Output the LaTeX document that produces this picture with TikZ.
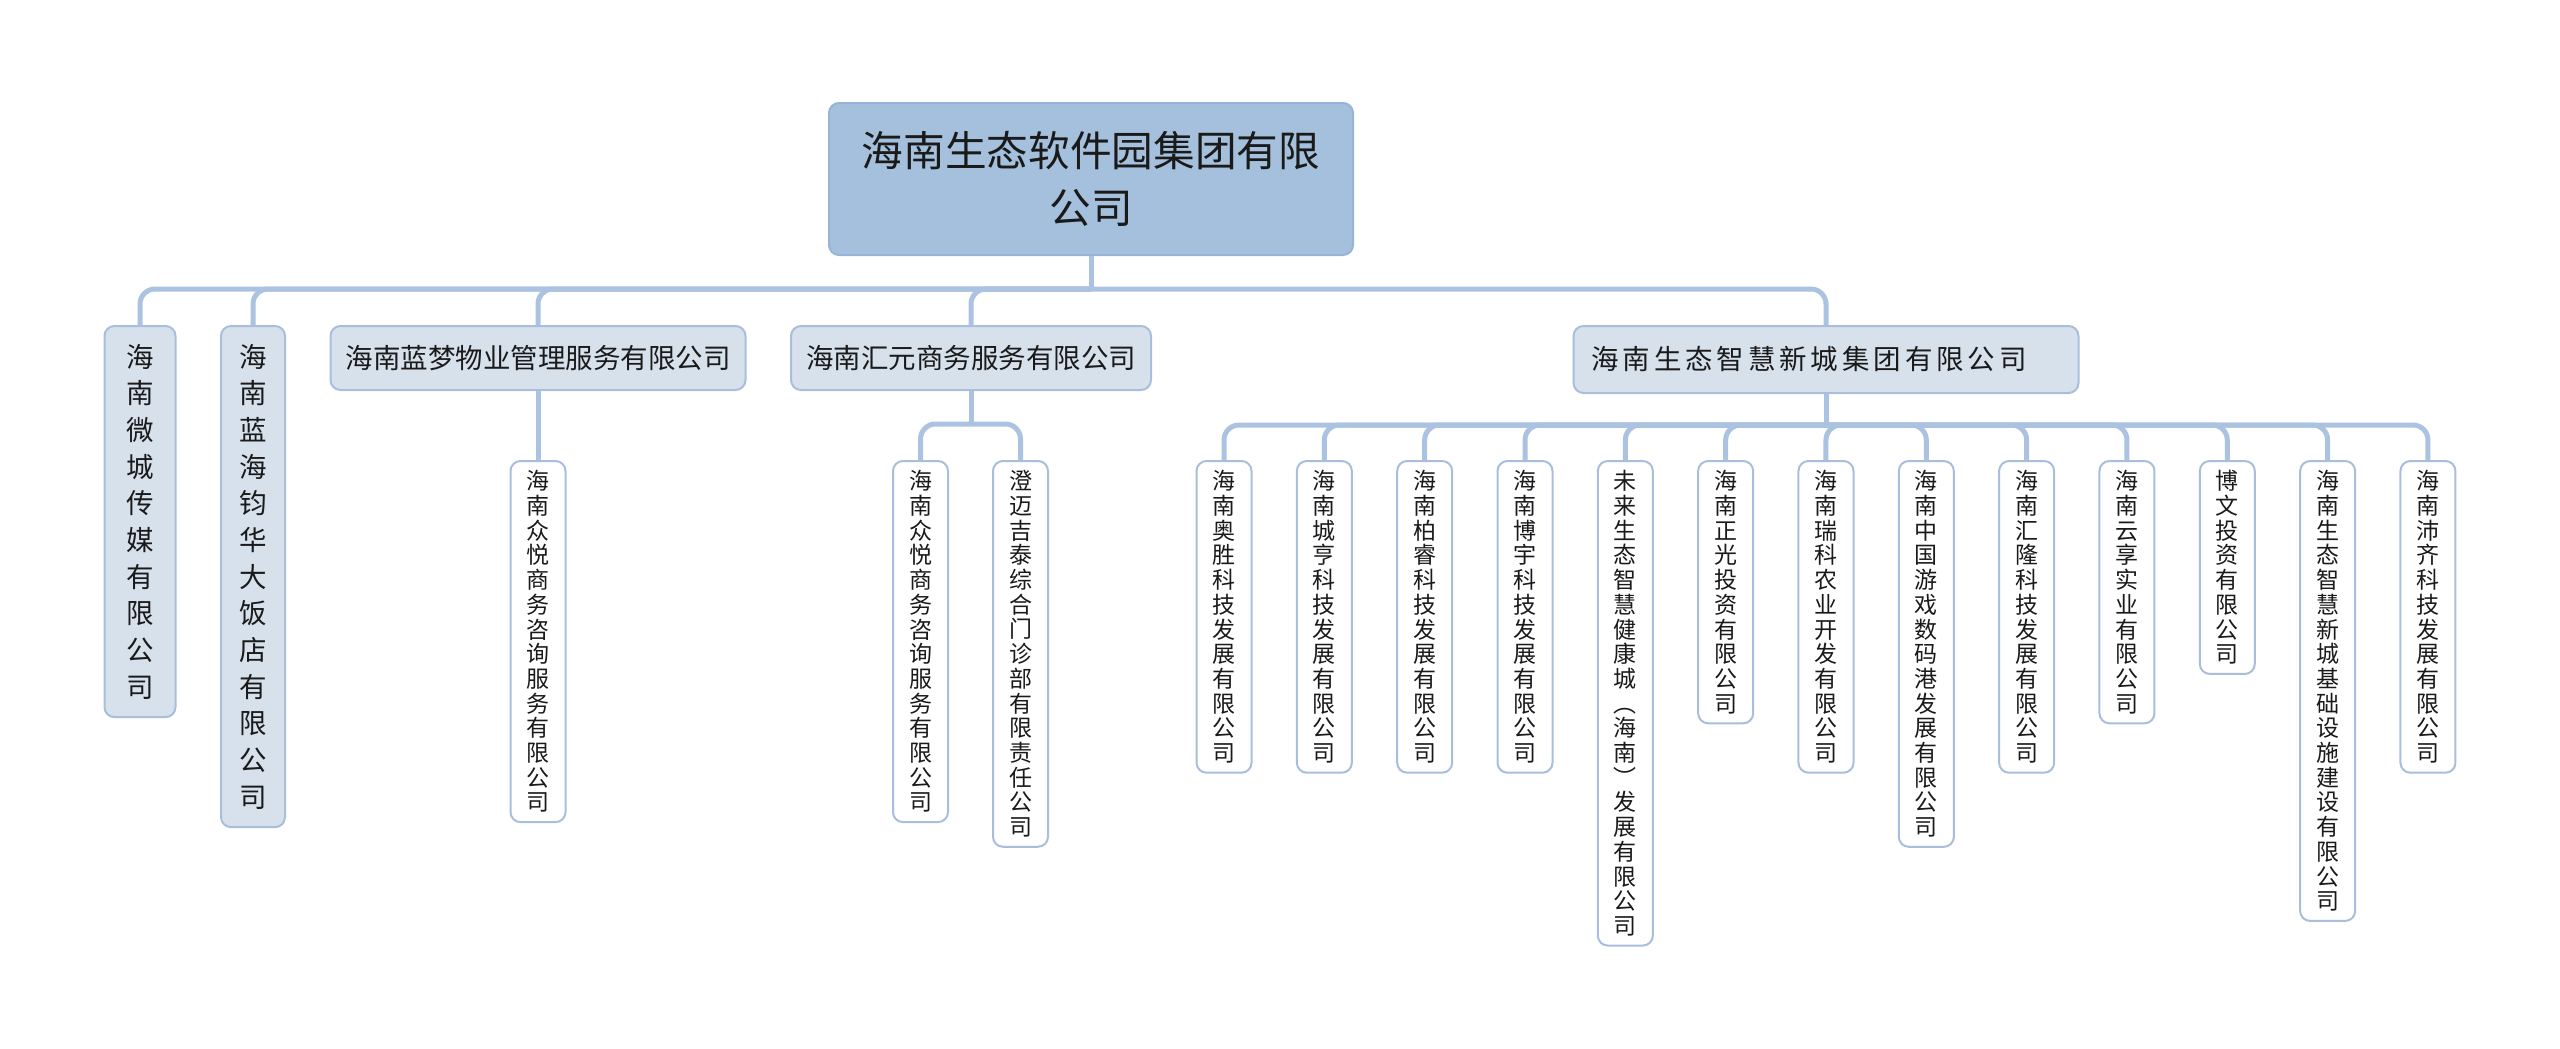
\documentclass[tikz,border=0pt]{standalone}
\usepackage{fontspec}
\setmainfont{Noto Sans CJK SC}
\newfontfamily\cjkwide[LetterSpace=14]{Noto Sans CJK SC}
\usetikzlibrary{positioning}

\definecolor{rootfill}{HTML}{A4C0DC}
\definecolor{rootline}{HTML}{97B4D6}
\definecolor{midfill}{HTML}{D6E1EC}
\definecolor{boxline}{HTML}{A9BEDC}
\definecolor{linkcol}{HTML}{ABC2E0}
\definecolor{txt}{HTML}{1A1A1A}

\def\vtxt#1{\expandafter\vtxtA#1\vtxtEnd}
\def\vtxtA#1#2\vtxtEnd{#1\ifx\vtxtEnd#2\vtxtEnd\else\\\vtxtA#2\vtxtEnd\fi}

\tikzset{
  rootbox/.style={draw=rootline, fill=rootfill, rounded corners=3pt, line width=0.6pt,
    minimum width=157.2pt, minimum height=45.6pt, align=center, text=txt,
    font=\fontsize{12.5}{17.1}\selectfont},
  midbox/.style={draw=boxline, fill=midfill, rounded corners=3pt, line width=0.6pt,
    minimum height=19.2pt, inner xsep=4.5pt, text=txt, anchor=north,
    font=\fontsize{8.25}{11}\selectfont},
  midcol/.style={midbox, align=center, inner xsep=0pt, inner ysep=5.4pt, minimum width=#1},
  leaf/.style={draw=boxline, fill=white, rounded corners=3pt, line width=0.6pt,
    minimum width=16.5pt, inner xsep=0pt, inner ysep=2.85pt, align=center, text=txt,
    anchor=north, font=\fontsize{6.9}{7.41}\selectfont},
  link/.style={draw=linkcol, line width=1.5pt, rounded corners=4.5pt},
}

\begin{document}
\begin{tikzpicture}[x=0.3pt, y=-0.3pt]
  \useasboundingbox (0,0) rectangle (2560,1048);

  \node[rootbox] (root) at (1091,179) {海南生态软件园集团有限\\公司};

  \node[midcol=21.3pt] (weicheng) at (140,325) {\vtxt{海南微城传媒有限公司}};
  \node[midcol=19.2pt] (lanhai) at (253,325) {\vtxt{海南蓝海钧华大饭店有限公司}};
  \node[midbox, minimum width=124.5pt] (lanmeng) at (538,325) {海南蓝梦物业管理服务有限公司};
  \node[midbox, minimum width=108pt] (huiyuan) at (971,325) {海南汇元商务服务有限公司};
  \node[midbox, minimum height=20.1pt, text width=140.7pt, inner xsep=5.4pt, align=left,
    font=\cjkwide\fontsize{8.25}{11}\selectfont] (xincheng) at (1826,325) {海南生态智慧新城集团有限公司};

  \node[leaf] (zhongyue) at (538,460) {\vtxt{海南众悦商务咨询服务有限公司}};
  \node[leaf] (zhongyueb) at (920.5,460) {\vtxt{海南众悦商务咨询服务有限公司}};
  \node[leaf] (chengmai) at (1020.5,460) {\vtxt{澄迈吉泰综合门诊部有限责任公司}};

  \foreach \name/\txt [count=\i from 0] in {
      aosheng/海南奥胜科技发展有限公司,
      chengheng/海南城亨科技发展有限公司,
      bairui/海南柏睿科技发展有限公司,
      boyu/海南博宇科技发展有限公司,
      weilai/未来生态智慧健康城︵海南︶发展有限公司,
      zhengguang/海南正光投资有限公司,
      ruike/海南瑞科农业开发有限公司,
      youxi/海南中国游戏数码港发展有限公司,
      huilong/海南汇隆科技发展有限公司,
      yunxiang/海南云享实业有限公司,
      bowen/博文投资有限公司,
      jichu/海南生态智慧新城基础设施建设有限公司,
      peiqi/海南沛齐科技发展有限公司}
    \node[leaf] (\name) at ({1224+100.33*\i},460) {\vtxt{\txt}};

  \coordinate (rootbus) at (root.south |- 0,289);
  \draw[link] (root) -- (rootbus);
  \foreach \c in {weicheng,lanhai,lanmeng,huiyuan,xincheng}
    \draw[link] (rootbus) -| (\c.north);

  \draw[link] (lanmeng) -- (zhongyue);

  \coordinate (hybus) at (huiyuan.south |- 0,424);
  \draw[link] (huiyuan) -- (hybus);
  \foreach \c in {zhongyueb,chengmai}
    \draw[link] (hybus) -| (\c.north);

  \coordinate (xcbus) at (xincheng.south |- 0,425);
  \draw[link] (xincheng) -- (xcbus);
  \foreach \c in {aosheng,chengheng,bairui,boyu,weilai,zhengguang,ruike,youxi,huilong,yunxiang,bowen,jichu,peiqi}
    \draw[link] (xcbus) -| (\c.north);
\end{tikzpicture}
\end{document}
